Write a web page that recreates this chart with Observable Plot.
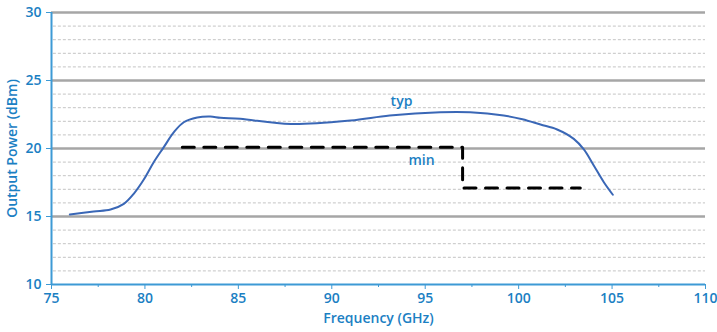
<!DOCTYPE html>
<html>
<head>
<meta charset="utf-8">
<script src="https://cdn.jsdelivr.net/npm/d3@7"></script>
<script src="https://cdn.jsdelivr.net/npm/@observablehq/plot@0.6"></script>
<style>
  html, body { margin: 0; padding: 0; background: #fff; }
</style>
</head>
<body>
<div id="chart"></div>
<script>
// Typical output power curve (GHz, dBm)
const typFreq  = [75.98, 77.26, 78.16, 78.87, 79.40, 79.94, 80.47, 81.01, 81.55, 82.08, 82.8, 83.5, 84.04, 85.1, 87.8, 91.0, 93.1, 95.8, 97.4, 99.2, 100.2, 101.17, 102.06, 102.95, 103.49, 104.02, 104.56, 105.04];
const typPower = [15.15, 15.37, 15.51, 15.93, 16.67, 17.72, 18.99, 20.10, 21.2, 21.93, 22.28, 22.35, 22.26, 22.18, 21.8, 22.06, 22.43, 22.67, 22.67, 22.43, 22.15, 21.76, 21.40, 20.71, 19.93, 18.75, 17.52, 16.6];

// Minimum spec (step)
const minFreq  = [82, 97, 97, 103.3];
const minPower = [20.1, 20.1, 17.1, 17.1];

// Axis ticks
const xTicks = [75, 80, 85, 90, 95, 100, 105, 110];
const xMinor = [77.5, 82.5, 87.5, 92.5, 97.5, 102.5, 107.5];
const yTicks = [10, 15, 20, 25, 30];
const yMinor = [11,12,13,14,16,17,18,19,21,22,23,24,26,27,28,29];

const labels = [
  {x: 93.73, y: 23.46, text: "typ"},
  {x: 94.8, y: 19.12, text: "min"}
];

const typ = typFreq.map((f, i) => ({f, p: typPower[i]}));
const mn = minFreq.map((f, i) => ({f, p: minPower[i]}));

const textColor = "#1b80c3";
const axisColor = "#3d9ad5";

const chart = Plot.plot({
  width: 717,
  height: 332,
  marginLeft: 51,
  marginRight: 12,
  marginTop: 12,
  marginBottom: 48,
  style: {fontFamily: "'Open Sans', sans-serif", fontSize: "13px", fontWeight: 600, color: textColor, background: "#fff"},
  x: {domain: [75, 110]},
  y: {domain: [10, 30]},
  marks: [
    Plot.ruleY(yMinor, {x1: 75.1, x2: 110, stroke: "#c4c4c4", strokeWidth: 1, strokeDasharray: "3,2"}),
    Plot.ruleY(yTicks.filter(v => v !== 10), {x1: 75, x2: 110, stroke: "#a6a6a6", strokeWidth: 2.5}),
    Plot.line(mn, {x: "f", y: "p", stroke: "#000", strokeWidth: 3, strokeDasharray: "12,9.5"}),
    Plot.line(typ, {x: "f", y: "p", stroke: "#3a67b6", strokeWidth: 2, curve: "catmull-rom"}),
    Plot.text(labels, {x: "x", y: "y", text: "text", fill: textColor, fontSize: 14}),
    Plot.ruleX([75], {y1: 10, y2: 30, stroke: axisColor, strokeWidth: 2}),
    Plot.ruleY([10], {x1: 75, x2: 110, stroke: axisColor, strokeWidth: 2}),
    Plot.axisY({ticks: yTicks, tickSize: 5, tickPadding: 5, stroke: axisColor, fill: textColor, label: null, fontSize: 14}),
    Plot.axisX({ticks: xTicks, tickSize: 5, tickPadding: 4, stroke: axisColor, fill: textColor, label: null, fontSize: 14}),
    Plot.axisX({ticks: xMinor, tickSize: 3, tickFormat: () => "", stroke: axisColor, label: null}),
    Plot.text(["Output Power (dBm)"], {frameAnchor: "left", textAnchor: "middle", rotate: -90, dx: -39, fill: textColor, fontSize: 14, fontWeight: 600}),
    Plot.text(["Frequency (GHz)"], {frameAnchor: "bottom", textAnchor: "middle", dy: 38, fill: textColor, fontSize: 14, fontWeight: 600})
  ]
});
document.getElementById("chart").appendChild(chart);
</script>
</body>
</html>
